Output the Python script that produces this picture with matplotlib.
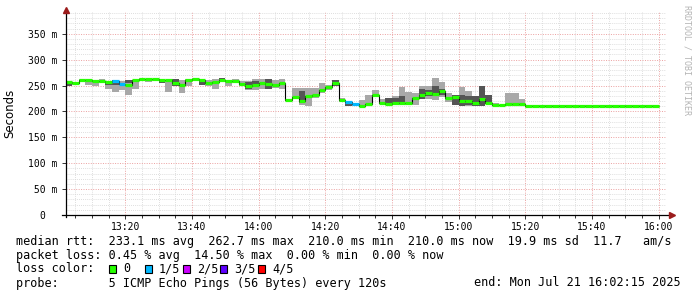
import numpy as np
import matplotlib
matplotlib.use("Agg")
import matplotlib.pyplot as plt
from matplotlib.patches import Rectangle
from matplotlib.ticker import MultipleLocator

# --- data ---
# one sample every 2 minutes, x = minutes after 13:00, first step starts 13:02
step_minutes = 2
first_step = 2
median_ms = [256, 254, 260, 260, 258, 258, 256, 258, 253, 251,
             260, 262.7, 262, 262, 260, 260, 254, 252, 260, 262.5,
             260, 254, 256, 260, 258, 258, 253, 250, 251, 254,
             253, 251, 254, 223, 228, 221, 230, 232, 241, 247,
             254, 223, 217.5, 214, 211, 215, 232, 217, 214, 217,
             217, 217, 226, 232, 235, 233, 239, 225, 227, 220,
             220, 216, 224, 217, 212, 212, 214, 215, 215, 210.5,
             210.5, 211, 211, 211, 211, 211, 211, 211, 210, 211,
             211, 210, 211, 211, 210, 210, 210, 210, 210]
smoke_hi = [257, 255, 263, 262, 260, 262, 258, 260, 258, 260,
            260, 265, 263, 263, 263, 260, 262, 260, 262, 265,
            263, 260, 262, 264, 260, 262, 258, 258, 263, 263,
            262, 260, 262, 224, 245, 245, 245, 245, 254, 252,
            260, 225, 219, 216, 223, 232, 241, 224, 226, 230,
            247, 237, 236, 249, 250, 264, 256, 236, 232, 247,
            239, 229, 250, 232, 216, 213, 236, 236, 224, 211.5,
            211.5, 212.5, 212.5, 212.5, 212.5, 212.5, 212.5, 212.5, 211.5, 212.5,
            212.5, 211.5, 212.5, 212.5, 211.5, 211.5, 211.5, 213, 211.5]
smoke_lo = [250, 252, 258, 252, 250, 254, 243, 237, 241, 231,
            243, 260, 256, 258, 255, 237, 249, 236, 249, 258,
            252, 250, 243, 258, 249, 255, 249, 242, 242, 243,
            243, 245, 243, 221, 224, 213, 210, 226, 236, 242,
            249, 219, 210, 211, 210, 213, 228, 216, 213, 213,
            213, 213, 213, 224, 224, 223, 228, 219, 213, 210,
            210, 210, 210, 216, 210, 211, 213, 210, 210, 209.5,
            209.5, 210, 210, 210, 210, 210, 210, 210, 209.5, 210,
            210, 209.5, 210, 210, 209.5, 209.5, 209.5, 209.5, 209.5]
# darker smoke close to the median
dark_steps = [0, 6, 7, 9, 14, 16, 20, 23, 27, 28, 30, 35, 40, 42, 48, 49,
              50, 53, 54, 55, 56, 58, 59, 60, 61, 62, 63]
dark_hi = [255, 258, 260, 260, 263, 262, 263, 264, 256, 258, 262, 239, 260,
           219, 226, 226, 229, 243, 242, 249, 243, 232, 232, 229, 229, 250, 232]
dark_lo = [250, 252, 252, 255, 255, 249, 252, 258, 243, 249, 243, 216, 249,
           210, 213, 217, 217, 224, 229, 229, 232, 213, 210, 213, 210, 210, 216]
# steps with lost pings (x of 5)
loss_steps = [7, 8, 42, 43]
loss_count = [1, 1, 1, 1]

loss_labels = ["0", "1/5", "2/5", "3/5", "4/5"]
loss_colors = ["#26ff00", "#00b8ff", "#cc00ff", "#5e00ff", "#ff0000"]

xtick_pos = [20, 40, 60, 80, 100, 120, 140, 160, 180]
xtick_labels = ["13:20", "13:40", "14:00", "14:20", "14:40",
                "15:00", "15:20", "15:40", "16:00"]
ytick_pos = [0, 50, 100, 150, 200, 250, 300, 350]
ytick_labels = ["0  ", " 50 m", "100 m", "150 m", "200 m",
                "250 m", "300 m", "350 m"]

rtt_line = ("median rtt:  233.1 ms avg  262.7 ms max  210.0 ms min  "
            "210.0 ms now  19.9 ms sd  11.7   am/s")
loss_line = "packet loss: 0.45 % avg  14.50 % max  0.00 % min  0.00 % now"
probe_line = "probe:       5 ICMP Echo Pings (56 Bytes) every 120s"
end_line = "end: Mon Jul 21 16:02:15 2025"

# --- figure ---
W, H = 697, 297
MONO = "DejaVu Sans Mono"


def fx(px):
    return px / W


def fy(py):
    return 1 - py / H


fig = plt.figure(figsize=(W / 100, H / 100), dpi=100)
ax = fig.add_axes([fx(66), fy(215), 600 / W, 203 / H])

n = len(median_ms)
starts = first_step + step_minutes * np.arange(n)
median = np.array(median_ms)

loss = np.zeros(n, dtype=int)
loss[loss_steps] = loss_count

# smoke
lo = np.array(smoke_lo)
hi = np.array(smoke_hi)
ax.bar(starts, hi - lo, bottom=lo, width=step_minutes, align="edge",
       color="#a8a8a8", linewidth=0, zorder=2)
d_hi = np.array(dark_hi)
d_lo = np.array(dark_lo)
ax.bar(starts[dark_steps], d_hi - d_lo, bottom=d_lo, width=step_minutes,
       align="edge", color="#555555", linewidth=0, zorder=2.5)

# median: thin black steps + coloured segments by loss
edges = np.append(starts, starts[-1] + step_minutes)
ax.stairs(median, edges, baseline=None, color="black", linewidth=0.8, zorder=3)
ax.hlines(median, starts, starts + step_minutes,
          colors=[loss_colors[l] for l in loss], linewidth=2.3, zorder=4)

ax.set_xlim(2.25, 182.25)
ax.set_ylim(0, 392)

ax.set_xticks(xtick_pos, xtick_labels)
ax.xaxis.set_minor_locator(MultipleLocator(5))
ax.set_yticks(ytick_pos, ytick_labels)
ax.yaxis.set_minor_locator(MultipleLocator(10))

ax.grid(which="minor", color="#d4d4d4", linestyle=(0, (1, 1.5)), linewidth=0.6)
ax.grid(which="major", color="#eba0a0", linestyle=(0, (1, 1.5)), linewidth=0.7)
ax.set_axisbelow(True)

ax.tick_params(which="both", direction="out", color="#333333", width=0.7)
ax.tick_params(which="major", length=3)
ax.tick_params(axis="x", which="minor", length=2)
ax.tick_params(axis="y", which="minor", length=0)
ax.tick_params(axis="x", pad=2, labelsize=7)
ax.tick_params(axis="y", pad=3, labelsize=7)
for lab in ax.get_xticklabels() + ax.get_yticklabels():
    lab.set_family(MONO)

for s in ax.spines.values():
    s.set_visible(False)

# axis lines with arrow heads
ax.plot([-4 / 600, 606 / 600], [0, 0], transform=ax.transAxes,
        color="black", linewidth=0.9, clip_on=False, zorder=5)
ax.plot([0, 0], [-2 / 203, 205 / 203], transform=ax.transAxes,
        color="black", linewidth=0.9, clip_on=False, zorder=5)
ax.plot([606 / 600], [0], marker=">", markersize=4.5, color="#9b1c1c",
        transform=ax.transAxes, clip_on=False, zorder=6)
ax.plot([0], [205 / 203], marker="^", markersize=4.5, color="#9b1c1c",
        transform=ax.transAxes, clip_on=False, zorder=6)

fig.text(fx(10), fy(113), "Seconds", rotation=90, ha="center", va="center",
         fontsize=8.5, family="DejaVu Sans")
fig.text(fx(687), fy(60), "RRDTOOL / TOBI OETIKER", rotation=270,
         ha="center", va="center", fontsize=6, family=MONO, color="#b4b4b4")

# legend
fig.text(fx(16), fy(241), rtt_line, ha="left", va="center", fontsize=8.5, family=MONO)
fig.text(fx(16), fy(255), loss_line, ha="left", va="center", fontsize=8.5, family=MONO)
fig.text(fx(16), fy(269), "loss color:", ha="left", va="center", fontsize=8.5, family=MONO)
box_x = [109, 145, 183, 220, 258]
for bx, col, lab in zip(box_x, loss_colors, loss_labels):
    fig.patches.append(Rectangle((fx(bx), fy(273)), 7 / W, 8 / H,
                                 transform=fig.transFigure, facecolor=col,
                                 edgecolor="black", linewidth=0.8))
    fig.text(fx(bx + 14), fy(269), lab, ha="left", va="center",
             fontsize=8.5, family=MONO)
fig.text(fx(16), fy(283), probe_line, ha="left", va="center", fontsize=8.5, family=MONO)
fig.text(fx(681), fy(283), end_line, ha="right", va="center", fontsize=8.5, family=MONO)

fig.savefig("out.png", dpi=100)
